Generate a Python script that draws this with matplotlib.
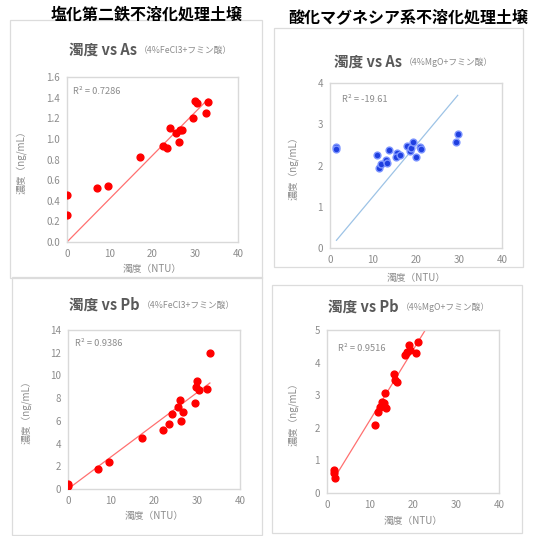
import matplotlib
matplotlib.use('Agg')
import matplotlib.pyplot as plt
import matplotlib.patches as patches
import numpy as np

plt.rcParams['font.family'] = ['Noto Sans CJK JP', 'DejaVu Sans']

W, H = 534, 536

# =========================
# Data
# =========================

# FeCl3 treated soil, As
turb_fe_as = [0, 0, 7, 9.5, 17, 22.5, 23.5, 24, 25.6, 26.2, 26.4, 26.8, 29.4, 30, 30.3, 32.4, 33]
as_fe = [0.46, 0.26, 0.52, 0.54, 0.82, 0.93, 0.91, 1.11, 1.06, 0.97, 1.09, 1.09, 1.20, 1.37, 1.35, 1.25, 1.36]

# MgO treated soil, As
turb_mg_as = [1.5, 1.5, 10.9, 11.4, 11.9, 13.1, 13.3, 13.8, 15.6, 15.4, 16.2, 18.0, 18.5, 18.8, 19.4, 20.1, 20.9, 21.2, 29.3, 29.7]
as_mg = [2.46, 2.40, 2.25, 1.95, 2.04, 2.13, 2.05, 2.38, 2.31, 2.21, 2.25, 2.48, 2.35, 2.42, 2.57, 2.21, 2.46, 2.40, 2.58, 2.76]

# FeCl3 treated soil, Pb
turb_fe_pb = [0, 0, 7, 9.6, 17.1, 22.1, 23.5, 24.1, 25.6, 26, 26.2, 26.7, 29.5, 29.8, 30, 30.5, 32.4, 33]
pb_fe = [0.3, 0.45, 1.76, 2.34, 4.48, 5.2, 5.74, 6.62, 7.26, 7.85, 6.03, 6.82, 7.6, 8.96, 9.5, 8.7, 8.8, 12.0]

# MgO treated soil, Pb
turb_mg_pb = [1.56, 1.6, 1.9, 11.2, 11.8, 12.4, 12.8, 13.2, 13.4, 13.8, 15.5, 15.9, 16.3, 18.2, 18.6, 19.0, 19.4, 20.6, 21.1]
pb_mg = [0.7, 0.6, 0.47, 2.08, 2.49, 2.65, 2.8, 2.75, 3.06, 2.6, 3.64, 3.47, 3.42, 4.24, 4.34, 4.54, 4.39, 4.29, 4.64]

col_titles = ['塩化第二鉄不溶化処理土壌', '酸化マグネシア系不溶化処理土壌']
r2_labels = ['R² = 0.7286', 'R² = -19.61', 'R² = 0.9386', 'R² = 0.9516']

fig = plt.figure(figsize=(W / 100, H / 100), dpi=100)


def fx(px):
    return px / W


def fy(py):
    return 1 - py / H


# chart area frames
for x0, y0, x1, y1 in [(10, 20, 262, 278), (274, 28, 523, 267),
                       (12, 277, 262, 535), (272, 285, 522, 533)]:
    fig.add_artist(patches.Rectangle((fx(x0), fy(y1)), fx(x1 - x0), (y1 - y0) / H,
                                     transform=fig.transFigure, fill=False,
                                     edgecolor='#dcdcdc', linewidth=0.9))

fig.text(fx(147), fy(15), col_titles[0], ha='center', va='center',
         fontsize=11.5, fontweight='bold', color='black')
fig.text(fx(408), fy(17), col_titles[1], ha='center', va='center',
         fontsize=11.5, fontweight='bold', color='black')


def panel(box, x, y, ymax, ystep, yfmt, title, sub, split_px, title_py,
          r2, r2pos, ylab_x, xlab_y, color, edge, line_color,
          through_origin=True, x_end=None):
    l, t, r, b = box
    ax = fig.add_axes([fx(l), fy(b), (r - l) / W, (b - t) / H])
    x = np.array(x)
    y = np.array(y)

    # linear trendline
    if through_origin:
        slope, icpt = np.sum(x * y) / np.sum(x * x), 0.0
    else:
        slope, icpt = np.polyfit(x, y, 1)
    xe = x.max() if x_end is None else x_end
    xs = np.array([x.min(), xe])
    ax.plot(xs, slope * xs + icpt, color=line_color, linewidth=0.9, zorder=2)

    ax.scatter(x, y, s=24, c=color, edgecolors=edge, linewidths=1.0, zorder=3)

    ax.set_xlim(0, 40)
    ax.set_ylim(0, ymax)
    ax.set_xticks(np.arange(0, 41, 10))
    yt = np.arange(0, ymax + ystep / 2, ystep)
    ax.set_yticks(yt)
    ax.set_yticklabels([yfmt.format(v) for v in yt])
    for sp in ax.spines.values():
        sp.set_color('#d9d9d9')
        sp.set_linewidth(1.0)
    ax.tick_params(length=0, labelsize=7, labelcolor='#8c8c8c', pad=5)

    ax.set_ylabel('濃度（ng/mL）', fontsize=7, color='#8c8c8c')
    ax.yaxis.set_label_coords(ylab_x, 0.5)
    ax.set_xlabel('濁度（NTU）', fontsize=7, color='#8c8c8c')
    ax.xaxis.set_label_coords(0.5, xlab_y)

    ax.text(r2pos[0], r2pos[1], r2, transform=ax.transAxes, fontsize=6.7,
            color='#8c8c8c', ha='left', va='center')

    fig.text(fx(split_px), fy(title_py), title, ha='right', va='center',
             fontsize=10.5, fontweight='bold', color='#595959')
    fig.text(fx(split_px + 2), fy(title_py), sub, ha='left', va='center',
             fontsize=6.3, color='#8c8c8c')
    return ax


red = '#ff0000'
panel((67, 77, 238, 242), turb_fe_as, as_fe, 1.6, 0.2, '{:.1f}',
      '濁度 vs As', '（4%FeCl3+フミン酸）', 137, 50,
      r2_labels[0], (0.035, 0.91), -0.235, -0.135, red, red, '#ff7070')

panel((330, 83, 502, 248), turb_mg_as, as_mg, 4, 1, '{:.0f}',
      '濁度 vs As', '（4%MgO+フミン酸）', 402, 62,
      r2_labels[1], (0.07, 0.90), -0.18, -0.15, '#1f3fe0', '#7d95ff', '#9dc3e6')

panel((68, 330, 240, 489), turb_fe_pb, pb_fe, 14, 2, '{:.0f}',
      '濁度 vs Pb', '（4%FeCl3+フミン酸）', 140, 305,
      r2_labels[2], (0.04, 0.915), -0.21, -0.14, red, red, '#ff7070')

panel((327, 330, 499, 493), turb_mg_pb, pb_mg, 5, 1, '{:.0f}',
      '濁度 vs Pb', '（4%MgO+フミン酸）', 399, 307,
      r2_labels[3], (0.062, 0.888), -0.165, -0.14, red, red, '#ff7070',
      through_origin=False, x_end=26)

fig.savefig('out.png', dpi=100)
